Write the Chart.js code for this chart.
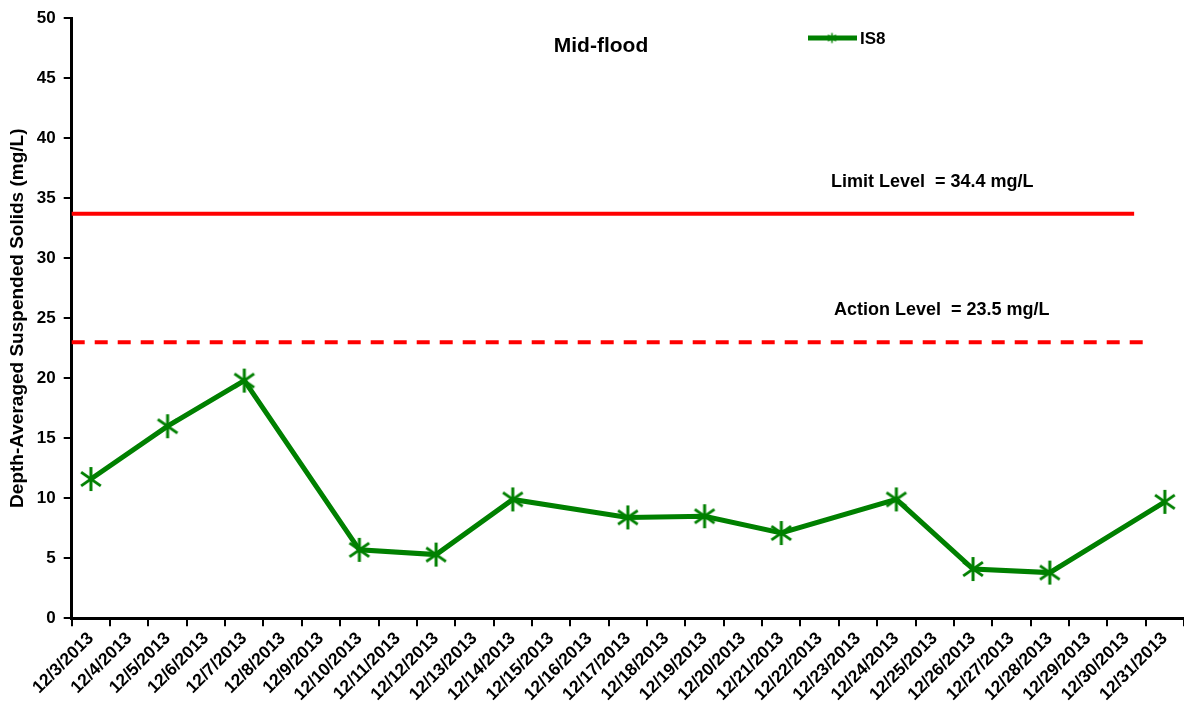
<!DOCTYPE html>
<html>
<head>
<meta charset="utf-8">
<script src="https://cdn.jsdelivr.net/npm/chart.js@4"></script>
<style>
  html, body { margin: 0; background: #fff; overflow: hidden; }
  #wrap { width: 1184px; height: 711px; position: relative; }
</style>
</head>
<body>
<div id="wrap"><canvas id="tssChart"></canvas></div>
<script>
const dates = [
    '12/3/2013', '12/4/2013', '12/5/2013', '12/6/2013', '12/7/2013', '12/8/2013',
    '12/9/2013', '12/10/2013', '12/11/2013', '12/12/2013', '12/13/2013', '12/14/2013',
    '12/15/2013', '12/16/2013', '12/17/2013', '12/18/2013', '12/19/2013', '12/20/2013',
    '12/21/2013', '12/22/2013', '12/23/2013', '12/24/2013', '12/25/2013', '12/26/2013',
    '12/27/2013', '12/28/2013', '12/29/2013', '12/30/2013', '12/31/2013'
];

// IS8 mid-flood readings, sampled every 2-3 days
const is8 = [
    11.6, null, 16.0, null, 19.8, null, null, 5.7, null, 5.3, null, 9.9,
    null, null, 8.4, null, 8.5, null, 7.1, null, null, 9.9, null, 4.1,
    null, 3.8, null, null, 9.7
];

const yTicks = [0, 5, 10, 15, 20, 25, 30, 35, 40, 45, 50];

// where the level lines sit on the plot, and their captions
const limitLine = 33.7;
const actionLine = 23.0;
const limitText = 'Limit Level  = 34.4 mg/L';
const actionText = 'Action Level  = 23.5 mg/L';

const green = '#008000';
const red = '#ff0000';
const family = '"Liberation Sans", Arial, sans-serif';

// six-armed asterisk marker like the original spreadsheet chart
function asterisk(r, w) {
    const c = document.createElement('canvas');
    const s = Math.ceil(r * 2 + w * 2);
    c.width = s;
    c.height = s;
    const g = c.getContext('2d');
    g.strokeStyle = green;
    g.lineWidth = w;
    g.translate(s / 2, s / 2);
    for (const a of [90, 35, -35]) {
        const dx = Math.cos(a * Math.PI / 180) * r;
        const dy = Math.sin(a * Math.PI / 180) * r;
        g.beginPath();
        g.moveTo(-dx, -dy);
        g.lineTo(dx, dy);
        g.stroke();
    }
    return c;
}
const bigStar = asterisk(12, 3);
const smallStar = asterisk(5, 1.5);

const overlay = {
    id: 'overlay',
    beforeDatasetsDraw(chart) {
        const { ctx, chartArea, scales: { x, y } } = chart;
        const step = x.getPixelForValue(1) - x.getPixelForValue(0);
        ctx.save();
        ctx.strokeStyle = red;
        ctx.lineWidth = 4;

        let yl = y.getPixelForValue(limitLine);
        ctx.beginPath();
        ctx.moveTo(chartArea.left, yl);
        ctx.lineTo(x.getPixelForValue(27) + step * 0.2, yl);
        ctx.stroke();

        let ya = y.getPixelForValue(actionLine);
        ctx.setLineDash([13, 10]);
        ctx.beginPath();
        ctx.moveTo(chartArea.left, ya);
        ctx.lineTo(x.getPixelForValue(27) + step * 0.5, ya);
        ctx.stroke();
        ctx.restore();
    },
    afterDatasetsDraw(chart) {
        const { ctx, scales: { y } } = chart;
        ctx.save();
        ctx.fillStyle = '#000';
        ctx.textBaseline = 'middle';
        ctx.textAlign = 'left';
        ctx.font = 'bold 18px ' + family;
        ctx.fillText(limitText, 831, y.getPixelForValue(limitLine) - 32);
        ctx.fillText(actionText, 834, y.getPixelForValue(actionLine) - 32);

        ctx.font = 'bold 21px ' + family;
        ctx.textAlign = 'center';
        ctx.fillText('Mid-flood', 601, 46);

        // legend
        const ds = chart.data.datasets[0];
        ctx.strokeStyle = ds.borderColor;
        ctx.lineWidth = 5;
        ctx.beginPath();
        ctx.moveTo(808, 38);
        ctx.lineTo(857, 38);
        ctx.stroke();
        ctx.drawImage(smallStar, 832 - smallStar.width / 2, 38 - smallStar.height / 2);
        ctx.fillStyle = '#000';
        ctx.font = 'bold 17px ' + family;
        ctx.textAlign = 'left';
        ctx.fillText(ds.label, 860, 39);
        ctx.restore();
    }
};

const ctx = document.getElementById('tssChart').getContext('2d');

new Chart(ctx, {
    type: 'line',
    data: {
        labels: dates,
        datasets: [{
            label: 'IS8',
            data: is8,
            borderColor: green,
            backgroundColor: green,
            borderWidth: 5,
            pointStyle: bigStar,
            pointRadius: 12,
            spanGaps: true,
            tension: 0
        }]
    },
    options: {
        responsive: true,
        maintainAspectRatio: false,
        animation: false,
        devicePixelRatio: 1,
        layout: { autoPadding: false, padding: { top: 17, right: -9, left: 0, bottom: 4 } },
        plugins: {
            legend: { display: false },
            tooltip: { enabled: false }
        },
        scales: {
            x: {
                offset: true,
                grid: { offset: true, drawOnChartArea: false, color: '#000', lineWidth: 2, tickLength: 8 },
                border: { color: '#000', width: 3 },
                ticks: {
                    autoSkip: false,
                    maxRotation: 45,
                    minRotation: 45,
                    color: '#000',
                    padding: 2,
                    font: { family: family, size: 17.5, weight: 'bold' }
                }
            },
            y: {
                min: 0,
                max: 50,
                afterBuildTicks(scale) { scale.ticks = yTicks.map(v => ({ value: v })); },
                grid: { drawOnChartArea: false, color: '#000', lineWidth: 2, tickLength: 8 },
                border: { color: '#000', width: 3 },
                ticks: {
                    color: '#000',
                    padding: 8,
                    font: { family: family, size: 17, weight: 'bold' }
                },
                title: {
                    display: true,
                    text: 'Depth-Averaged Suspended Solids (mg/L)',
                    color: '#000',
                    padding: { top: 6, bottom: 0 },
                    font: { family: family, size: 19, weight: 'bold' }
                }
            }
        }
    },
    plugins: [overlay]
});
</script>
</body>
</html>
